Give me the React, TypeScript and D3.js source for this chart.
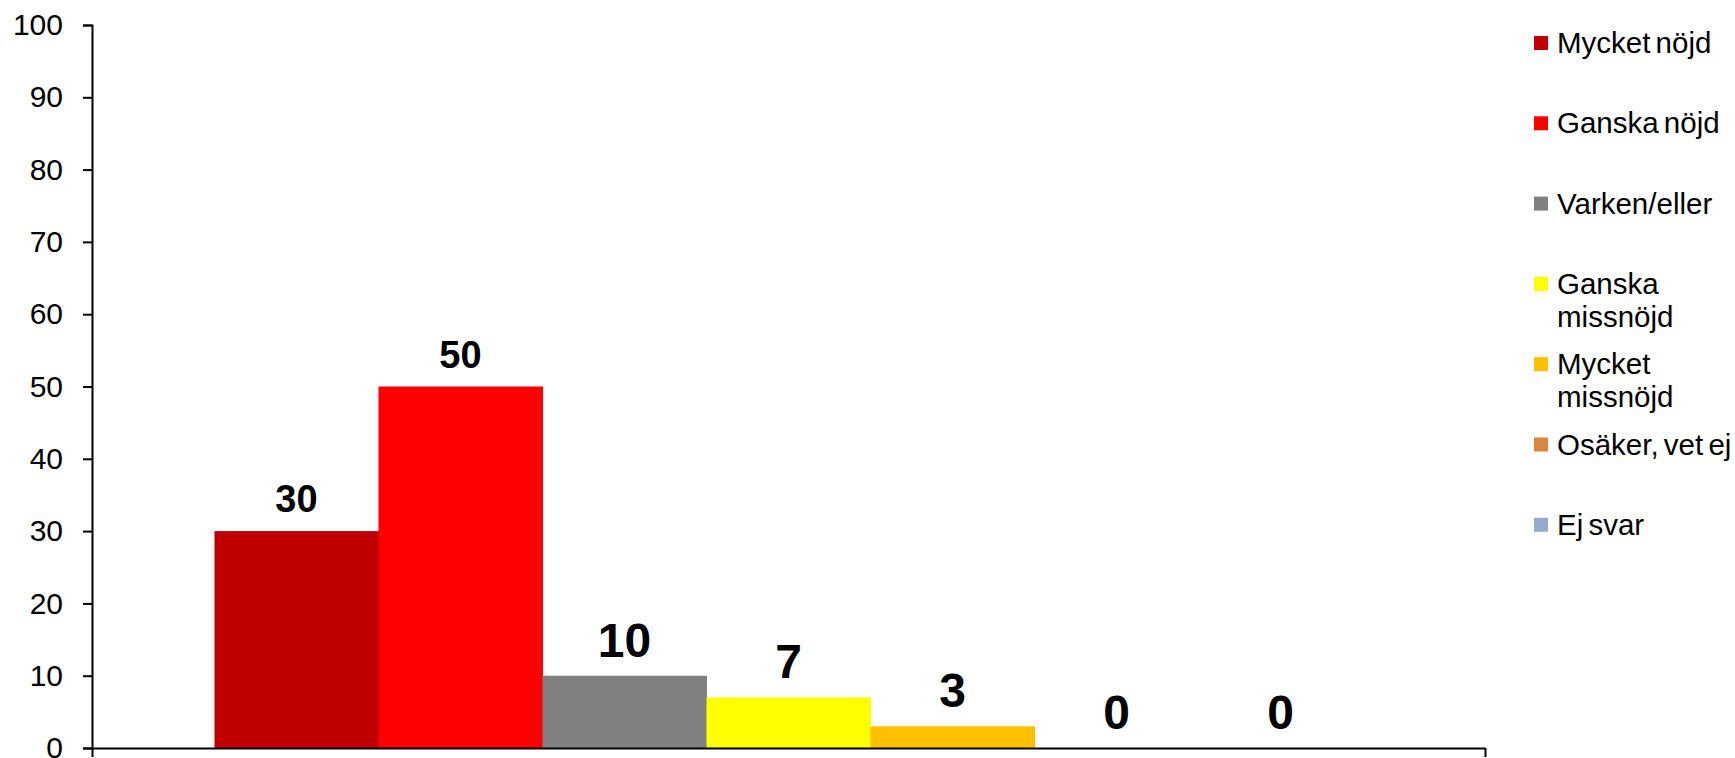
import * as d3 from "d3";
import { useEffect, useRef } from "react";

const categories = ["Svar"];
const seriesNames = [
  "Mycket nöjd",
  "Ganska nöjd",
  "Varken/eller",
  "Ganska missnöjd",
  "Mycket missnöjd",
  "Osäker, vet ej",
  "Ej svar",
];
const seriesValues = [30, 50, 10, 7, 3, 0, 0];
const yTicks = [0, 10, 20, 30, 40, 50, 60, 70, 80, 90, 100];
// legend text split into lines as in the picture
const legendLines = [
  ["Mycket nöjd"],
  ["Ganska nöjd"],
  ["Varken/eller"],
  ["Ganska", "missnöjd"],
  ["Mycket", "missnöjd"],
  ["Osäker, vet ej"],
  ["Ej svar"],
];

const colors = ["#C00000", "#FF0000", "#808080", "#FFFF00", "#FFC000", "#DC8543", "#95A9D2"];
const labelFontSizes = [38, 38, 48, 48, 48, 48, 48];

const App: React.FC = () => {
  const ref = useRef<HTMLDivElement | null>(null);

  useEffect(() => {
    document.body.style.margin = "0";
    const width = 1735;
    const height = 758;
    const margin = { top: 25, right: 250, bottom: 10, left: 92 };
    const font = "'Liberation Sans', Arial, sans-serif";

    if (!ref.current) return;
    d3.select(ref.current).selectAll("*").remove();

    const svg = d3
      .select(ref.current)
      .append("svg")
      .attr("width", width)
      .attr("height", height)
      .style("display", "block")
      .style("background", "#fff");

    const x0 = d3
      .scaleBand<string>()
      .domain(categories)
      .range([margin.left, 1485])
      .paddingInner(0)
      .paddingOuter(0.1067);

    const x1 = d3
      .scaleBand<string>()
      .domain(seriesNames)
      .range([0, x0.bandwidth()])
      .padding(0);

    const y = d3
      .scaleLinear()
      .domain([0, 100])
      .range([height - margin.bottom, margin.top]);

    const groupX = x0(categories[0]) ?? 0;

    // bars
    svg
      .append("g")
      .selectAll("rect")
      .data(seriesValues)
      .join("rect")
      .attr("x", (_, i) => groupX + (x1(seriesNames[i]) ?? 0))
      .attr("y", (d) => y(d))
      .attr("width", x1.bandwidth() + 0.5)
      .attr("height", (d) => y(0) - y(d))
      .attr("fill", (_, i) => colors[i]);

    // value labels
    svg
      .append("g")
      .selectAll("text")
      .data(seriesValues)
      .join("text")
      .attr("x", (_, i) => groupX + (x1(seriesNames[i]) ?? 0) + x1.bandwidth() / 2)
      .attr("y", (d) => y(d) - 19)
      .attr("text-anchor", "middle")
      .attr("font-family", font)
      .attr("font-weight", "bold")
      .attr("font-size", (_, i) => labelFontSizes[i])
      .attr("fill", "#000")
      .text((d) => d);

    // y axis
    const yAxis = svg
      .append("g")
      .attr("transform", `translate(${margin.left},0)`)
      .call(
        d3
          .axisLeft(y)
          .tickValues(yTicks)
          .tickSize(9)
          .tickPadding(20)
          .tickFormat((d) => String(d))
      );
    yAxis.select(".domain").attr("stroke", "#000").attr("stroke-width", 2);
    yAxis.selectAll("line").attr("stroke", "#000").attr("stroke-width", 2);
    yAxis
      .selectAll("text")
      .attr("font-family", font)
      .attr("font-size", 30)
      .attr("fill", "#000");

    // x axis
    const xAxis = svg
      .append("g")
      .attr("transform", `translate(0,${y(0)})`)
      .call(
        d3
          .axisBottom(d3.scaleLinear().domain([0, 1]).range([margin.left, 1485]))
          .tickValues([0, 1])
          .tickSize(9)
          .tickSizeOuter(0)
          .tickFormat(() => "")
      );
    xAxis.select(".domain").attr("stroke", "#000").attr("stroke-width", 2);
    xAxis.selectAll("line").attr("stroke", "#000").attr("stroke-width", 2);

    // legend
    const legend = svg
      .append("g")
      .selectAll("g")
      .data(seriesNames)
      .join("g")
      .attr("transform", (_, i) => `translate(1534,${43 + i * 80.3})`);

    legend
      .append("rect")
      .attr("x", 0)
      .attr("y", -7)
      .attr("width", 14)
      .attr("height", 14)
      .attr("fill", (_, i) => colors[i]);

    legend
      .append("text")
      .attr("x", 23)
      .attr("y", 10)
      .attr("font-family", font)
      .attr("font-size", 29.5)
      .attr("word-spacing", -3)
      .attr("fill", "#000")
      .selectAll("tspan")
      .data((_, i) => legendLines[i])
      .join("tspan")
      .attr("x", 23)
      .attr("dy", (_, j) => (j === 0 ? 0 : 33))
      .text((d) => d);
  }, []);

  return <div ref={ref} />;
};

export default App;
